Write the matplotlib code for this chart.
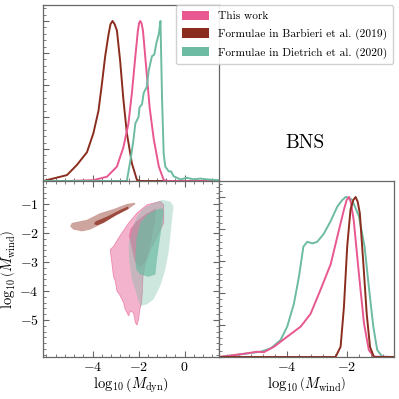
import matplotlib
matplotlib.use("Agg")
import matplotlib.pyplot as plt
from matplotlib.patches import Patch
from matplotlib.ticker import AutoMinorLocator

plt.rcParams['font.family'] = 'serif'
plt.rcParams['font.serif'] = ['cmr10']
plt.rcParams['mathtext.fontset'] = 'cm'
plt.rcParams['axes.formatter.use_mathtext'] = True

# colours
c_this = '#E8578F'
c_barb = '#8B2D1E'
c_diet = '#6DBBA2'

labels = ['This work', 'Formulae in Barbieri et al. (2019)', 'Formulae in Dietrich et al. (2020)']

# 1D marginal of log10(M_dyn), peak normalised to 1
dyn_barb_x = [-6.13, -5.11, -4.68, -4.24, -3.96, -3.74, -3.59, -3.45, -3.30, -3.22, -3.13,
              -3.04, -2.94, -2.80, -2.66, -2.51, -2.29, -2.07, -1.9, 1.5]
dyn_barb_y = [0.0, 0.037, 0.10, 0.18, 0.30, 0.44, 0.61, 0.78, 0.92, 0.98, 1.0,
              0.98, 0.94, 0.75, 0.51, 0.30, 0.11, 0.006, 0.0, 0.0]

dyn_this_x = [-6.13, -5.1, -3.96, -3.37, -2.94, -2.66, -2.44, -2.29, -2.14, -2.03, -1.98, -1.93,
              -1.87, -1.81, -1.67, -1.52, -1.34, -1.12, -0.91, -0.7, 1.5]
dyn_this_y = [0.0, 0.0, 0.005, 0.027, 0.09, 0.21, 0.36, 0.55, 0.78, 0.94, 0.985, 1.0,
              0.985, 0.94, 0.71, 0.46, 0.26, 0.09, 0.006, 0.0, 0.0]

dyn_diet_x = [-6.13, -2.51, -2.33, -2.22, -2.14, -2.00, -1.96, -1.85, -1.78, -1.64, -1.56,
              -1.42, -1.32, -1.23, -1.12, -1.05, -0.98, -0.91, -0.84, -0.69, -0.59,
              -0.48, -0.19, 0.10, 0.39, 0.68, 0.97, 1.45]
dyn_diet_y = [0.0, 0.0, 0.15, 0.26, 0.36, 0.40, 0.46, 0.48, 0.55, 0.59, 0.69,
              0.78, 0.79, 0.86, 0.92, 1.0, 0.51, 0.17, 0.09, 0.06, 0.06,
              0.03, 0.01, 0.02, 0.01, 0.015, 0.01, 0.005]

# 1D marginal of log10(M_wind)
wind_diet_x = [-6.27, -5.98, -5.42, -4.87, -4.53, -4.2, -3.98, -3.76, -3.59, -3.44, -3.31,
               -3.14, -2.98, -2.76, -2.53, -2.31, -2.15, -2.03, -1.91, -1.81, -1.59, -1.40,
               -1.26, -1.11, -0.98, -0.81, -0.42]
wind_diet_y = [0.0, 0.006, 0.02, 0.033, 0.054, 0.106, 0.19, 0.33, 0.50, 0.69, 0.72,
               0.71, 0.72, 0.77, 0.85, 0.94, 0.98, 1.0, 0.995, 0.98, 0.88, 0.69,
               0.44, 0.19, 0.044, 0.002, 0.0]

wind_this_x = [-6.27, -5.98, -5.42, -4.98, -4.76, -4.42, -3.98, -3.53, -3.2, -2.87, -2.53,
               -2.26, -2.09, -2.0, -1.92, -1.85, -1.76, -1.59, -1.42, -1.26, -1.09, -0.42]
wind_this_y = [0.0, 0.006, 0.02, 0.033, 0.03, 0.064, 0.127, 0.19, 0.27, 0.42, 0.58,
               0.79, 0.92, 0.98, 1.0, 0.96, 0.85, 0.52, 0.21, 0.044, 0.002, 0.0]

wind_barb_x = [-6.27, -2.37, -2.2, -2.09, -1.98, -1.87, -1.78, -1.7, -1.63, -1.56, -1.44,
               -1.33, -1.22, -1.09, -0.42]
wind_barb_y = [0.0, 0.0, 0.064, 0.31, 0.69, 0.92, 0.98, 1.0, 0.97, 0.90, 0.58,
               0.27, 0.064, 0.0, 0.0]

# 2D credible regions (log10 M_dyn, log10 M_wind), outer and inner
barb_outer = [(-4.97, -1.77), (-4.90, -1.65), (-4.24, -1.54), (-3.67, -1.31), (-3.09, -1.17),
              (-2.50, -0.99), (-2.17, -0.95), (-2.14, -1.0), (-2.5, -1.2), (-3.09, -1.43),
              (-3.67, -1.71), (-4.10, -1.88), (-4.46, -1.94), (-4.83, -1.88)]
barb_inner = [(-3.93, -1.69), (-3.88, -1.60), (-3.37, -1.43), (-2.80, -1.2), (-2.46, -1.08),
              (-2.43, -1.16), (-2.94, -1.37), (-3.52, -1.65), (-3.81, -1.73)]

this_outer = [(-1.06, -0.91), (-1.63, -1.02), (-2.07, -1.31), (-2.43, -1.65), (-2.87, -2.17),
              (-3.09, -2.46), (-3.23, -2.57), (-3.16, -3.03), (-3.09, -3.49), (-3.01, -3.66),
              (-2.94, -4.0), (-2.83, -4.12), (-2.72, -4.29), (-2.65, -4.40), (-2.58, -4.63),
              (-2.43, -4.86), (-2.36, -4.69), (-2.22, -4.75), (-2.14, -5.09), (-2.07, -5.18),
              (-2.0, -4.98), (-1.95, -4.65), (-1.87, -4.40), (-1.84, -4.06), (-1.81, -3.49),
              (-1.71, -3.03), (-1.49, -2.57), (-1.2, -2.11), (-0.91, -1.65), (-0.91, -1.02)]
this_inner = [(-1.25, -1.15), (-1.7, -1.35), (-2.1, -1.6), (-2.35, -1.85), (-2.42, -2.1),
              (-2.3, -2.5), (-2.15, -3.0), (-1.95, -3.2), (-1.7, -3.0), (-1.5, -2.4),
              (-1.3, -1.7)]

diet_outer = [(-0.98, -0.85), (-0.62, -0.91), (-0.48, -1.08), (-0.55, -1.54), (-0.62, -2.11),
              (-0.70, -2.68), (-0.84, -3.26), (-1.06, -3.83), (-1.35, -4.29), (-1.63, -4.46),
              (-1.93, -4.52), (-2.0, -4.35), (-2.14, -3.97), (-2.29, -3.60), (-2.40, -3.03),
              (-2.43, -2.34), (-2.29, -1.88), (-2.07, -1.43), (-1.78, -1.14), (-1.35, -0.97)]
diet_inner = [(-0.98, -1.14), (-0.91, -1.25), (-1.06, -2.11), (-1.20, -2.91), (-1.27, -3.43),
              (-1.56, -3.51), (-1.93, -3.43), (-2.10, -3.26), (-2.14, -2.91), (-2.10, -2.23),
              (-1.93, -1.65), (-1.63, -1.37), (-1.27, -1.20)]

dyn_lim = (-6.15, 1.47)
wind_lim = (-6.28, -0.2)
wind_lim_x = (-6.27, -0.42)

fig = plt.figure(figsize=(3.99, 3.99), dpi=100)
L, R, B, T = 43 / 399, 394 / 399, 1 - 357 / 399, 1 - 5 / 399
W = (R - L) / 2
H = (T - B) / 2
ax_top = fig.add_axes([L, B + H, W, H])
ax_2d = fig.add_axes([L, B, W, H])
ax_br = fig.add_axes([L + W, B, W, H])

spine_col = '#666666'
for ax in (ax_top, ax_2d, ax_br):
    for s in ax.spines.values():
        s.set_color(spine_col)
        s.set_linewidth(0.9)
    ax.tick_params(which='both', direction='in', color=spine_col, labelsize=10, pad=3)
    ax.tick_params(which='major', length=4, width=0.8)
    ax.tick_params(which='minor', length=2, width=0.6)
    ax.xaxis.set_minor_locator(AutoMinorLocator(5))
    ax.yaxis.set_minor_locator(AutoMinorLocator(5))

lw = 1.4
# top-left: M_dyn marginal
ax_top.plot(dyn_barb_x, dyn_barb_y, color=c_barb, lw=lw)
ax_top.plot(dyn_this_x, dyn_this_y, color=c_this, lw=lw)
ax_top.plot(dyn_diet_x, dyn_diet_y, color=c_diet, lw=lw)
ax_top.set_xlim(*dyn_lim)
ax_top.set_ylim(0, 1.1)
ax_top.set_xticks([-4, -2, 0])
ax_top.set_yticks([0, 0.2, 0.4, 0.6, 0.8, 1.0])
ax_top.tick_params(labelbottom=False, labelleft=False)

# bottom-left: 2D regions
ax_2d.fill(*zip(*this_outer), color=c_this, alpha=0.45, lw=0)
ax_2d.fill(*zip(*this_inner), color=c_this, alpha=0.6, lw=0)
ax_2d.fill(*zip(*this_outer), fill=False, edgecolor=c_this, alpha=0.6, lw=0.6)
ax_2d.fill(*zip(*diet_outer), color=c_diet, alpha=0.34, lw=0)
ax_2d.fill(*zip(*diet_inner), color=c_diet, alpha=0.7, lw=0)
ax_2d.fill(*zip(*barb_outer), color=c_barb, alpha=0.43, lw=0)
ax_2d.fill(*zip(*barb_inner), color=c_barb, alpha=0.75, lw=0)
ax_2d.set_xlim(*dyn_lim)
ax_2d.set_ylim(*wind_lim)
ax_2d.set_xticks([-4, -2, 0])
ax_2d.set_yticks([-5, -4, -3, -2, -1])
ax_2d.tick_params(which='both', top=True, right=True)
ax_2d.set_xlabel(r'$\log_{10}\left(M_{\rm dyn}\right)$', fontsize=10.5, labelpad=1)
ax_2d.set_ylabel(r'$\log_{10}\left(M_{\rm wind}\right)$', fontsize=10.5, labelpad=1)

# bottom-right: M_wind marginal
ax_br.plot(wind_diet_x, wind_diet_y, color=c_diet, lw=lw)
ax_br.plot(wind_this_x, wind_this_y, color=c_this, lw=lw)
ax_br.plot(wind_barb_x, wind_barb_y, color=c_barb, lw=lw)
ax_br.set_xlim(*wind_lim_x)
ax_br.set_ylim(0, 1.1)
ax_br.set_xticks([-4, -2])
ax_br.set_yticks([0, 0.2, 0.4, 0.6, 0.8, 1.0])
ax_br.tick_params(labelleft=False)
ax_br.set_xlabel(r'$\log_{10}\left(M_{\rm wind}\right)$', fontsize=10.5, labelpad=1)

# top-right: legend and label
handles = [Patch(facecolor=c, edgecolor='none') for c in (c_this, c_barb, c_diet)]
fig.legend(handles, labels, loc='upper right', bbox_to_anchor=(R - 0.002, T), borderaxespad=0,
           fontsize=8.2, frameon=True, edgecolor='#cccccc', framealpha=0.9,
           handlelength=2.4, handleheight=0.9, handletextpad=0.8, labelspacing=0.6,
           borderpad=0.5)
fig.text(305 / 399, 1 - 143 / 399, 'BNS', fontsize=14, ha='center', va='center')

fig.savefig('out.png', dpi=100)
